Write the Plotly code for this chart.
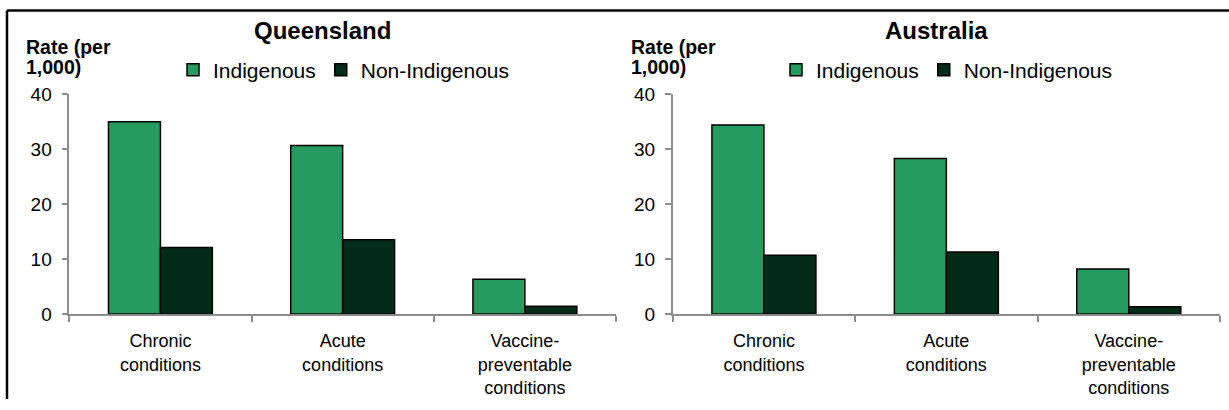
import plotly.graph_objects as go

categories = ["Chronic<br>conditions", "Acute<br>conditions", "Vaccine-<br>preventable<br>conditions"]
qld_indigenous = [35.0, 30.7, 6.3]
qld_non_indigenous = [12.1, 13.5, 1.4]
aus_indigenous = [34.4, 28.3, 8.2]
aus_non_indigenous = [10.7, 11.3, 1.3]
y_ticks = [0, 10, 20, 30, 40]
series_names = ["Indigenous", "Non-Indigenous"]
panel_titles = ["Queensland", "Australia"]

C_IND = "#269B5F"
C_NON = "#022B18"
AXIS_C = "#8C8C8C"
FONT = "Liberation Sans, Arial, sans-serif"
W, H = 1229, 410

def px_x(p):
    return p / W

def fig_y(p_ref):
    # map a target picture row to a figure row
    return p_ref * 430 / 410 - 10

def px_y(p_ref):
    return 1 - fig_y(p_ref) / H

fig = go.Figure()

panels = [
    (qld_indigenous, qld_non_indigenous, "x", "y", "legend"),
    (aus_indigenous, aus_non_indigenous, "x2", "y2", "legend2"),
]
for ind, non, xa, ya, lg in panels:
    for vals, name, col in [(ind, series_names[0], C_IND), (non, series_names[1], C_NON)]:
        fig.add_trace(go.Bar(
            x=categories, y=vals, name=name, xaxis=xa, yaxis=ya, legend=lg,
            marker=dict(color=col, line=dict(color="#000000", width=1.5)),
            hoverinfo="skip",
        ))

y_lo, y_hi = px_y(315), px_y(94.3)
xcommon = dict(
    showline=True, linecolor=AXIS_C, linewidth=1.5,
    ticks="outside", tickson="boundaries", ticklen=6, tickcolor=AXIS_C, tickwidth=1.5,
    tickfont=dict(family=FONT, size=18, color="#000"),
    ticklabelstandoff=10,
    showgrid=False, zeroline=False, fixedrange=True,
)
ycommon = dict(
    range=[0, 40], tickvals=y_ticks, showline=True, linecolor=AXIS_C, linewidth=1.5,
    ticks="outside", ticklen=6, tickcolor=AXIS_C, tickwidth=1.5,
    tickfont=dict(family=FONT, size=19, color="#000"),
    ticklabelstandoff=6,
    showgrid=False, zeroline=False, fixedrange=True,
)
legend_common = dict(orientation="h", xanchor="left", yanchor="middle",
                     font=dict(family=FONT, size=21, color="#000"), bgcolor="rgba(0,0,0,0)",
                     itemwidth=30, tracegroupgap=0, traceorder="normal")
fig.update_layout(
    width=W, height=H,
    margin=dict(l=0, r=0, t=0, b=0),
    paper_bgcolor="white", plot_bgcolor="white",
    barmode="group", bargap=0.43, bargroupgap=0,
    font=dict(family=FONT, size=19, color="#000"),
    xaxis=dict(domain=[px_x(69.3), px_x(616)], anchor="y", **xcommon),
    yaxis=dict(domain=[y_lo, y_hi], anchor="x", **ycommon),
    xaxis2=dict(domain=[px_x(672.7), px_x(1220)], anchor="y2", **xcommon),
    yaxis2=dict(domain=[y_lo, y_hi], anchor="x2", **ycommon),
    legend=dict(x=px_x(173), y=px_y(70), **legend_common),
    legend2=dict(x=px_x(776), y=px_y(70), **legend_common),
    showlegend=True,
)

annotations = []
for title, cx in zip(panel_titles, [322, 936]):
    annotations.append(dict(text=f"<b>{title}</b>", x=px_x(cx), y=px_y(30), xref="paper", yref="paper",
                            xanchor="center", yanchor="middle", showarrow=False,
                            font=dict(family=FONT, size=24, color="#000")))
for lx in [24, 629]:
    for line, ly in [("Rate (per", 47), ("1,000)", 67)]:
        annotations.append(dict(text=f"<b>{line}</b>", x=px_x(lx), y=px_y(ly), xref="paper", yref="paper",
                                xanchor="left", yanchor="middle", align="left", showarrow=False,
                                font=dict(family=FONT, size=19.5, color="#000")))
fig.update_layout(annotations=annotations)

top = 1 - 0.5 / H
fig.update_layout(shapes=[
    dict(type="line", xref="paper", yref="paper", x0=px_x(7), x1=1, y0=top, y1=top,
         line=dict(color="#000", width=2.5)),
    dict(type="line", xref="paper", yref="paper", x0=px_x(7), x1=px_x(7), y0=top, y1=0,
         line=dict(color="#000", width=2.5)),
])

fig.write_html("out.html", config={"displayModeBar": False},
               post_script="document.body.style.margin='0px';")
